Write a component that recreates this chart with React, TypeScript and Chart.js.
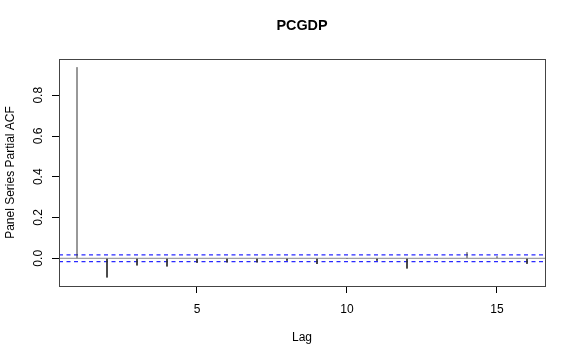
import React, { useEffect, useRef } from "react";
import { Chart, registerables } from "chart.js";

Chart.register(...registerables);

const lags = [1, 2, 3, 4, 5, 6, 7, 8, 9, 10, 11, 12, 13, 14, 15, 16];
const pacfValues = [0.938, -0.094, -0.035, -0.04, -0.022, -0.02, -0.02, -0.012, -0.028, -0.003, -0.012, -0.05, -0.002, 0.03, 0.01, -0.027];
const confLimit = 0.0165;
const xTickValues = [5, 10, 15];
const yTickValues = [0.0, 0.2, 0.4, 0.6, 0.8];
const titleText = "PCGDP";
const xTitle = "Lag";
const yTitle = "Panel Series Partial ACF";

const FONT = "'Liberation Sans', Arial, Helvetica, sans-serif";

const xMin = 0.4;
const xMax = 16.6;
const yMin = -0.136;
const yMax = 0.978;

const rStylePlugin = {
  id: "rStyle",
  afterDraw(chart: any) {
    const ctx = chart.ctx;
    const { left, right, top, bottom } = chart.chartArea;
    ctx.save();
    ctx.setLineDash([]);
    ctx.strokeStyle = "#444";
    ctx.lineWidth = 1;
    ctx.strokeRect(Math.round(left) + 0.5, Math.round(top) + 0.5, Math.round(right - left), Math.round(bottom - top));
    const ys = chart.scales.y;
    ctx.fillStyle = "#000";
    ctx.font = `12px ${FONT}`;
    ctx.textAlign = "center";
    ctx.textBaseline = "alphabetic";
    yTickValues.forEach((v) => {
      const py = ys.getPixelForValue(v);
      ctx.save();
      ctx.translate(41.5, py);
      ctx.rotate(-Math.PI / 2);
      ctx.fillText(v.toFixed(1), 0, 0);
      ctx.restore();
    });
    ctx.restore();
  },
};

function hLine(value: number, color: string, dash: number[], width: number) {
  return {
    data: [
      { x: xMin, y: value },
      { x: xMax, y: value },
    ],
    showLine: true,
    borderColor: color,
    backgroundColor: color,
    borderWidth: width,
    borderDash: dash,
    pointRadius: 0,
    fill: false,
  } as any;
}

// spikes: a vertical segment from 0 to each value, broken by gaps
const spikePoints: any[] = [];
lags.forEach((l, i) => {
  spikePoints.push({ x: l, y: 0 });
  spikePoints.push({ x: l, y: pacfValues[i] });
  spikePoints.push({ x: l, y: null });
});

export default function App() {
  const canvasRef = useRef<HTMLCanvasElement | null>(null);

  useEffect(() => {
    if (!canvasRef.current) return;
    const chart = new Chart(canvasRef.current, {
      type: "scatter",
      data: {
        datasets: [
          hLine(0, "#888", [], 1),
          {
            data: spikePoints,
            showLine: true,
            spanGaps: false,
            borderColor: "#333",
            backgroundColor: "#333",
            borderWidth: 1,
            pointRadius: 0,
            fill: false,
          } as any,
          hLine(confLimit, "#2a2aff", [4, 3.5], 1.2),
          hLine(-confLimit, "#2a2aff", [4, 3.5], 1.2),
        ],
      },
      options: {
        animation: false,
        responsive: false,
        maintainAspectRatio: false,
        layout: { padding: { left: 0, right: 31, top: 0, bottom: 0 } },
        plugins: {
          legend: { display: false },
          tooltip: { enabled: false },
          title: {
            display: true,
            text: titleText,
            fullSize: false,
            color: "#000",
            font: { family: FONT, size: 14.4, weight: "bold", lineHeight: 1.2 },
            padding: { top: 17, bottom: 24.7 },
          },
        },
        scales: {
          x: {
            type: "linear",
            min: xMin,
            max: xMax,
            offset: false,
            afterBuildTicks: (scale: any) => {
              scale.ticks = xTickValues.map((v) => ({ value: v }));
            },
            afterFit: (scale: any) => {
              scale.height = 74;
            },
            grid: {
              display: true,
              offset: false,
              drawOnChartArea: false,
              drawTicks: true,
              tickLength: 7,
              color: "#000",
            },
            border: { display: false },
            ticks: {
              color: "#000",
              font: { family: FONT, size: 12 },
              padding: 9,
              maxRotation: 0,
              autoSkip: false,
              callback: (v: any) => String(v),
            },
            title: {
              display: true,
              text: xTitle,
              color: "#000",
              font: { family: FONT, size: 12, lineHeight: 1.2 },
              padding: { top: 0, bottom: 15 },
            },
          },
          y: {
            type: "linear",
            min: yMin,
            max: yMax,
            afterBuildTicks: (scale: any) => {
              scale.ticks = yTickValues.map((v) => ({ value: v }));
            },
            afterFit: (scale: any) => {
              scale.width = 59;
            },
            grid: {
              display: true,
              drawOnChartArea: false,
              drawTicks: true,
              tickLength: 7,
              color: "#000",
            },
            border: { display: false },
            ticks: {
              color: "rgba(0,0,0,0)",
              font: { family: FONT, size: 12 },
              autoSkip: false,
              callback: (v: any) => Number(v).toFixed(1),
            },
            title: {
              display: true,
              text: yTitle,
              color: "#000",
              font: { family: FONT, size: 12, lineHeight: 1.2 },
              padding: { top: 3, bottom: 0 },
            },
          },
        },
      } as any,
      plugins: [rStylePlugin],
    });
    return () => chart.destroy();
  }, []);

  return (
    <div style={{ position: "fixed", left: 0, top: 0, width: 576, height: 360, background: "#fff" }}>
      <canvas ref={canvasRef} width={576} height={360} style={{ display: "block" }} />
    </div>
  );
}
